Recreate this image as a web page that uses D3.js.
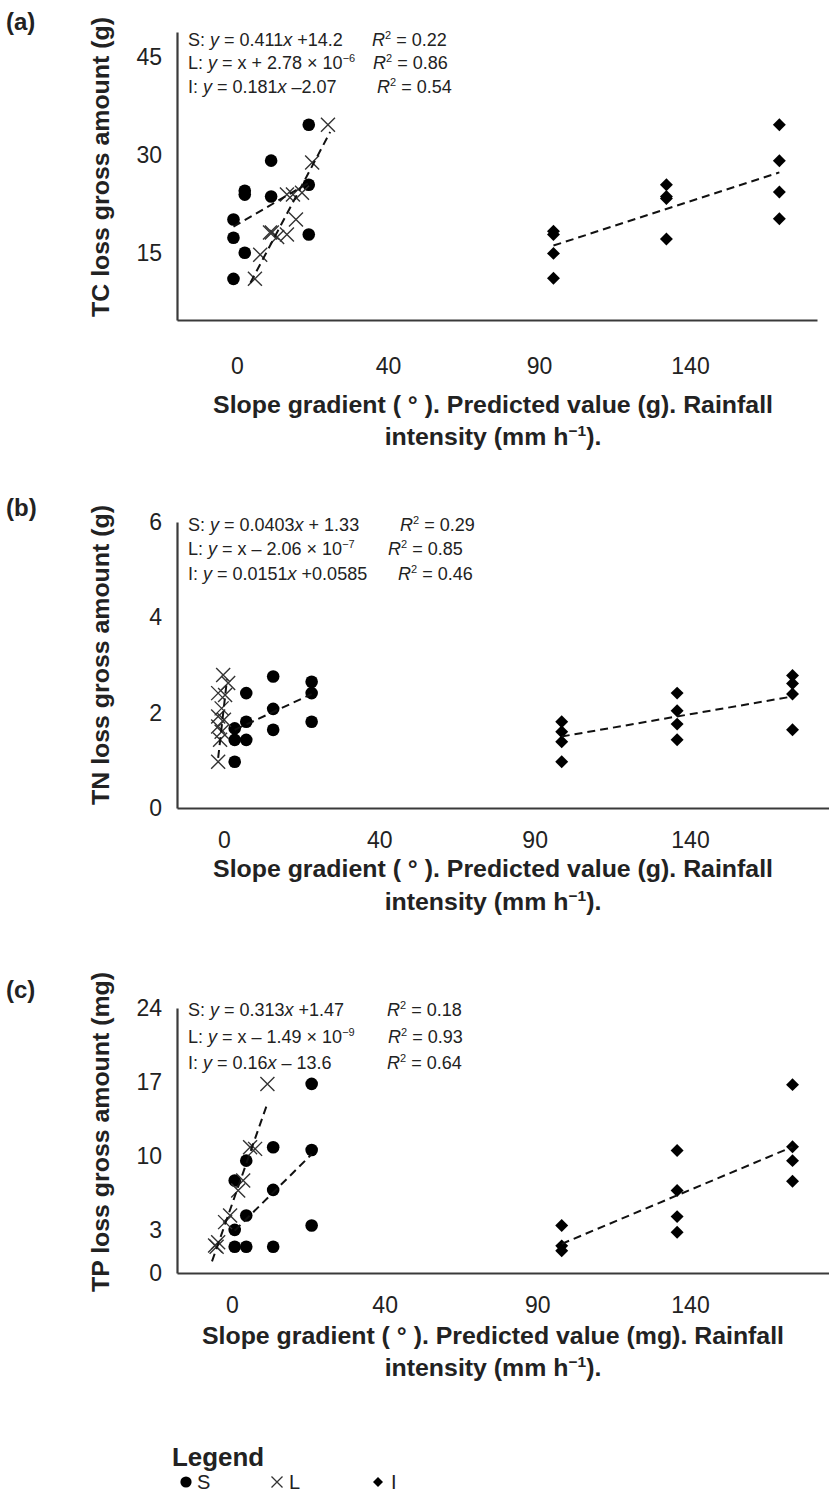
<!DOCTYPE html>
<html>
<head>
<meta charset="utf-8">
<script src="https://cdn.jsdelivr.net/npm/d3@7"></script>
<style>
    body { margin: 0; background: #fff; }
    text { font-family: "Liberation Sans", Arial, sans-serif; fill: #222; }
    .bold { font-weight: bold; font-size: 24px; }
    .axis path { stroke: #3a3a3a; stroke-width: 2.2; }
    .axis text { font-size: 23px; fill: #222; font-family: "Liberation Sans", Arial, sans-serif; }
</style>
</head>
<body>
<svg id="chart" width="829" height="1501"></svg>
<script>
var xTickLabels = ["0", "40", "90", "140"];

// (a) TC
var tcYTicks = [15, 30, 45];
var tcSlopeX = [5, 5, 5, 8, 8, 8, 15, 15, 25, 25, 25];
var tcSlopeY = [20.1, 17.3, 11.0, 24.5, 23.9, 15.0, 29.1, 23.6, 34.6, 25.4, 17.8];
var tcPredX = [30.1, 25.9, 19.2, 20.8, 23.2, 21.6, 15.2, 16.6, 19.2, 14.7, 12.1, 10.7];
var tcPredY = [34.6, 28.8, 23.9, 23.9, 24.2, 20.1, 18.1, 17.4, 17.8, 18.1, 14.7, 11.0];
var tcRainX = [90, 90, 90, 90, 120, 120, 120, 120, 150, 150, 150, 150];
var tcRainY = [18.3, 17.8, 14.9, 11.1, 25.4, 23.6, 23.3, 17.1, 34.6, 29.1, 24.3, 20.2];
var tcTrendS = [[5, 19.0], [25, 25.7]];
var tcTrendL = [[9.5, 10.4], [30.7, 33.5]];
var tcTrendI = [[90, 16.1], [150, 27.3]];
var tcEq = ["S: *y* = 0.411*x* +14.2", "L: *y* = x + 2.78 × 10^−6^", "I: *y* = 0.181*x* –2.07"];
var tcR2 = ["*R*^2^ = 0.22", "*R*^2^ = 0.86", "*R*^2^ = 0.54"];

// (b) TN
var tnYTicks = [0, 2, 4, 6];
var tnSlopeX = [5, 5, 5, 8, 8, 8, 15, 15, 15, 25, 25, 25];
var tnSlopeY = [1.67, 1.43, 0.97, 2.41, 1.81, 1.43, 2.76, 2.08, 1.64, 2.65, 2.41, 1.81];
var tnPredX = [2.0, 3.3, 0.7, 2.5, 1.6, 0.7, 2.2, 0.7, 1.6, 1.2, 0.7];
var tnPredY = [2.79, 2.62, 2.41, 2.37, 2.09, 1.92, 1.85, 1.71, 1.60, 1.43, 0.97];
var tnRainX = [90, 90, 90, 90, 120, 120, 120, 120, 150, 150, 150, 150];
var tnRainY = [1.81, 1.60, 1.39, 0.97, 2.41, 2.04, 1.76, 1.43, 2.78, 2.61, 2.39, 1.64];
var tnTrendS = [[5, 1.64], [25, 2.39]];
var tnTrendL = [[0.7, 1.05], [3.0, 2.7]];
var tnTrendI = [[90, 1.50], [150, 2.34]];
var tnEq = ["S: *y* = 0.0403*x* + 1.33", "L: *y* = x – 2.06 × 10^−7^", "I: *y* = 0.0151*x* +0.0585"];
var tnR2 = ["*R*^2^ = 0.29", "*R*^2^ = 0.85", "*R*^2^ = 0.46"];

// (c) TP  (lowest tick sits on the axis and is printed "0")
var tpYTicks = [-1, 3, 10, 17, 24];
var tpYLabels = ["0", "3", "10", "17", "24"];
var tpSlopeX = [5, 5, 5, 8, 8, 8, 15, 15, 15, 25, 25, 25];
var tpSlopeY = [7.72, 3.07, 1.47, 9.60, 4.42, 1.47, 10.87, 6.84, 1.47, 16.84, 10.61, 3.48];
var tpPredX = [13.5, 9.0, 10.3, 7.2, 5.9, 3.8, 2.5, 0.7, -0.1, 0.3];
var tpPredY = [16.84, 10.87, 10.71, 7.72, 6.78, 4.42, 3.80, 1.91, 1.59, 1.47];
var tpRainX = [90, 90, 90, 120, 120, 120, 120, 150, 150, 150, 150];
var tpRainY = [3.48, 1.56, 1.09, 10.55, 6.78, 4.32, 2.85, 16.77, 10.92, 9.60, 7.66];
var tpTrendS = [[5, 3.0], [25, 10.2]];
var tpTrendL = [[-0.9, 0.1], [13.6, 15.1]];
var tpTrendI = [[90, 1.75], [150, 10.9]];
var tpEq = ["S: *y* = 0.313*x* +1.47", "L: *y* = x – 1.49 × 10^−9^", "I: *y* = 0.16*x* – 13.6"];
var tpR2 = ["*R*^2^ = 0.18", "*R*^2^ = 0.93", "*R*^2^ = 0.64"];

var legendNames = ["S", "L", "I"];

var svg = d3.select("#chart");

var crossPath = "M-7,-7L7,7M-7,7L7,-7";
var diamond = d3.symbol().type(d3.symbolSquare).size(84);

// the bold labels in the figure use a condensed face; squeeze Arial bold to the same width
var probe = svg.append("text").attr("class", "bold").text("Slope gradient ( ° ). Predicted value (g). Rainfall");
var squeeze = 560 / probe.node().getComputedTextLength();
probe.remove();

// write "*italic*" and "^sup^" markup into a text element
function rich(t, str) {
    var parts = str.split(/(\*[^*]+\*|\^[^^]+\^)/).filter(function (s) { return s.length; });
    var lift = 0;
    parts.forEach(function (s) {
        var ts = t.append("tspan");
        if (s[0] == "*") {
            ts.text(s.slice(1, -1)).style("font-style", "italic");
        } else if (s[0] == "^") {
            ts.text(s.slice(1, -1)).attr("dy", -7).style("font-size", "11px");
            lift = 7;
            return;
        } else {
            ts.text(s);
        }
        if (lift) { ts.attr("dy", lift); lift = 0; }
    });
}

function drawPanel(p) {
    var x = d3.scaleLinear().domain(p.xDomain).range([p.left, p.right]);
    var y = d3.scaleLinear().domain(p.yDomain).range([p.bottom, p.top]);
    var xl = d3.scalePoint().domain(xTickLabels).range(p.xLabelRange);
    var g = svg.append("g");

    g.append("g")
        .attr("class", "axis")
        .attr("transform", "translate(" + p.left + ",0)")
        .call(d3.axisLeft(y).tickValues(p.yTicks)
            .tickFormat(function (d, i) { return p.yLabels ? p.yLabels[i] : d; })
            .tickSize(0).tickPadding(15));

    // axis line
    g.append("g")
        .attr("class", "axis")
        .attr("transform", "translate(0," + p.bottom + ")")
        .call(d3.axisBottom(x).tickValues([]).tickSize(0));

    // tick labels
    g.append("g")
        .attr("class", "axis")
        .attr("transform", "translate(0," + p.bottom + ")")
        .call(d3.axisBottom(xl).tickSize(0).tickPadding(p.tickPad))
        .call(function (a) { a.select(".domain").remove(); });

    // S
    g.selectAll(".s").data(d3.zip(p.sx, p.sy)).join("circle")
        .attr("cx", function (d) { return x(d[0]); })
        .attr("cy", function (d) { return y(d[1]); })
        .attr("r", 6.3)
        .attr("fill", "#000");

    // L
    g.selectAll(".l").data(d3.zip(p.lx, p.ly)).join("path")
        .attr("d", crossPath)
        .attr("transform", function (d) { return "translate(" + x(d[0]) + "," + y(d[1]) + ")"; })
        .attr("fill", "none")
        .attr("stroke", "#333")
        .attr("stroke-width", 1.4);

    // I
    g.selectAll(".i").data(d3.zip(p.ix, p.iy)).join("path")
        .attr("d", diamond)
        .attr("transform", function (d) { return "translate(" + x(d[0]) + "," + y(d[1]) + ") rotate(45)"; })
        .attr("fill", "#000");

    var line = d3.line()
        .x(function (d) { return x(d[0]); })
        .y(function (d) { return y(d[1]); });

    g.selectAll(".trend").data(p.trends).join("path")
        .attr("d", line)
        .attr("fill", "none")
        .attr("stroke", "#111")
        .attr("stroke-width", 2)
        .attr("stroke-dasharray", "8,5");

    // equations
    p.eq.forEach(function (s, i) {
        var t = g.append("text").attr("x", 188).attr("y", p.eqY[i]).style("font-size", "18px");
        rich(t, s);
        var r = g.append("text").attr("x", p.rX[i]).attr("y", p.eqY[i]).style("font-size", "18px");
        rich(r, p.r2[i]);
    });

    // panel letter
    g.append("text").attr("class", "bold")
        .attr("x", 6).attr("y", p.letterY)
        .text(p.letter);

    // y title
    g.append("text").attr("class", "bold")
        .attr("transform", "translate(109," + p.yTitleCY + ") rotate(-90) scale(" + squeeze + ",1)")
        .attr("text-anchor", "middle")
        .text(p.yTitle);

    // x title, two lines
    g.append("text").attr("class", "bold")
        .attr("transform", "translate(493," + p.xTitleY[0] + ") scale(" + squeeze + ",1)")
        .attr("text-anchor", "middle")
        .text(p.xTitle);

    var t2 = g.append("text").attr("class", "bold")
        .attr("transform", "translate(493," + p.xTitleY[1] + ") scale(" + squeeze + ",1)")
        .attr("text-anchor", "middle");
    t2.append("tspan").text("intensity (mm h");
    t2.append("tspan").attr("dy", -9).style("font-size", "15px").text("−1");
    t2.append("tspan").attr("dy", 9).text(").");
}

drawPanel({
    letter: "(a)", letterY: 30,
    left: 177, right: 817, top: 32, bottom: 320,
    xDomain: [-10, 160], yDomain: [4.7, 48.8], yTicks: tcYTicks,
    xLabelRange: [237, 690], tickPad: 38,
    sx: tcSlopeX, sy: tcSlopeY, lx: tcPredX, ly: tcPredY, ix: tcRainX, iy: tcRainY,
    trends: [tcTrendS, tcTrendL, tcTrendI],
    eq: tcEq, r2: tcR2, eqY: [46, 69, 93], rX: [372, 373, 377],
    yTitle: "TC loss gross amount (g)", yTitleCY: 167,
    xTitle: "Slope gradient ( ° ). Predicted value (g). Rainfall", xTitleY: [413, 445]
});

drawPanel({
    letter: "(b)", letterY: 516,
    left: 177, right: 831, top: 522, bottom: 808,
    xDomain: [-10, 160], yDomain: [0, 6], yTicks: tnYTicks,
    xLabelRange: [224, 690], tickPad: 24,
    sx: tnSlopeX, sy: tnSlopeY, lx: tnPredX, ly: tnPredY, ix: tnRainX, iy: tnRainY,
    trends: [tnTrendS, tnTrendL, tnTrendI],
    eq: tnEq, r2: tnR2, eqY: [531, 555, 580], rX: [400, 388, 398],
    yTitle: "TN loss gross amount (g)", yTitleCY: 655,
    xTitle: "Slope gradient ( ° ). Predicted value (g). Rainfall", xTitleY: [877, 910]
});

drawPanel({
    letter: "(c)", letterY: 998,
    left: 177, right: 831, top: 1008, bottom: 1273,
    xDomain: [-10, 160], yDomain: [-1, 24], yTicks: tpYTicks, yLabels: tpYLabels,
    xLabelRange: [232, 690], tickPad: 24,
    sx: tpSlopeX, sy: tpSlopeY, lx: tpPredX, ly: tpPredY, ix: tpRainX, iy: tpRainY,
    trends: [tpTrendS, tpTrendL, tpTrendI],
    eq: tpEq, r2: tpR2, eqY: [1016, 1043, 1069], rX: [387, 388, 387],
    yTitle: "TP loss gross amount (mg)", yTitleCY: 1132,
    xTitle: "Slope gradient ( ° ). Predicted value (mg). Rainfall", xTitleY: [1344, 1376]
});

// legend
svg.append("text").attr("class", "bold")
    .attr("transform", "translate(172,1466) scale(" + squeeze + ",1)")
    .style("font-size", "25px")
    .text("Legend");

var lg = svg.append("g").attr("transform", "translate(0,1482)");
var legX = d3.scalePoint().domain(legendNames).range([186, 378]);

lg.append("circle").attr("cx", legX("S")).attr("cy", 0).attr("r", 5.6).attr("fill", "#000");
lg.append("path").attr("d", "M-5.5,-5.5L5.5,5.5M-5.5,5.5L5.5,-5.5")
    .attr("transform", "translate(" + (legX("L") - 5) + ",0)")
    .attr("stroke", "#333").attr("stroke-width", 1.3);
lg.append("path").attr("d", d3.symbol().type(d3.symbolSquare).size(50))
    .attr("transform", "translate(" + legX("I") + ",0) rotate(45)")
    .attr("fill", "#000");

lg.selectAll(".lt").data(legendNames).join("text")
    .attr("x", function (d) { return legX(d) + (d == "I" ? 13 : (d == "L" ? 7 : 11)); })
    .attr("y", 7)
    .style("font-size", "20px")
    .text(function (d) { return d; });
</script>
</body>
</html>
